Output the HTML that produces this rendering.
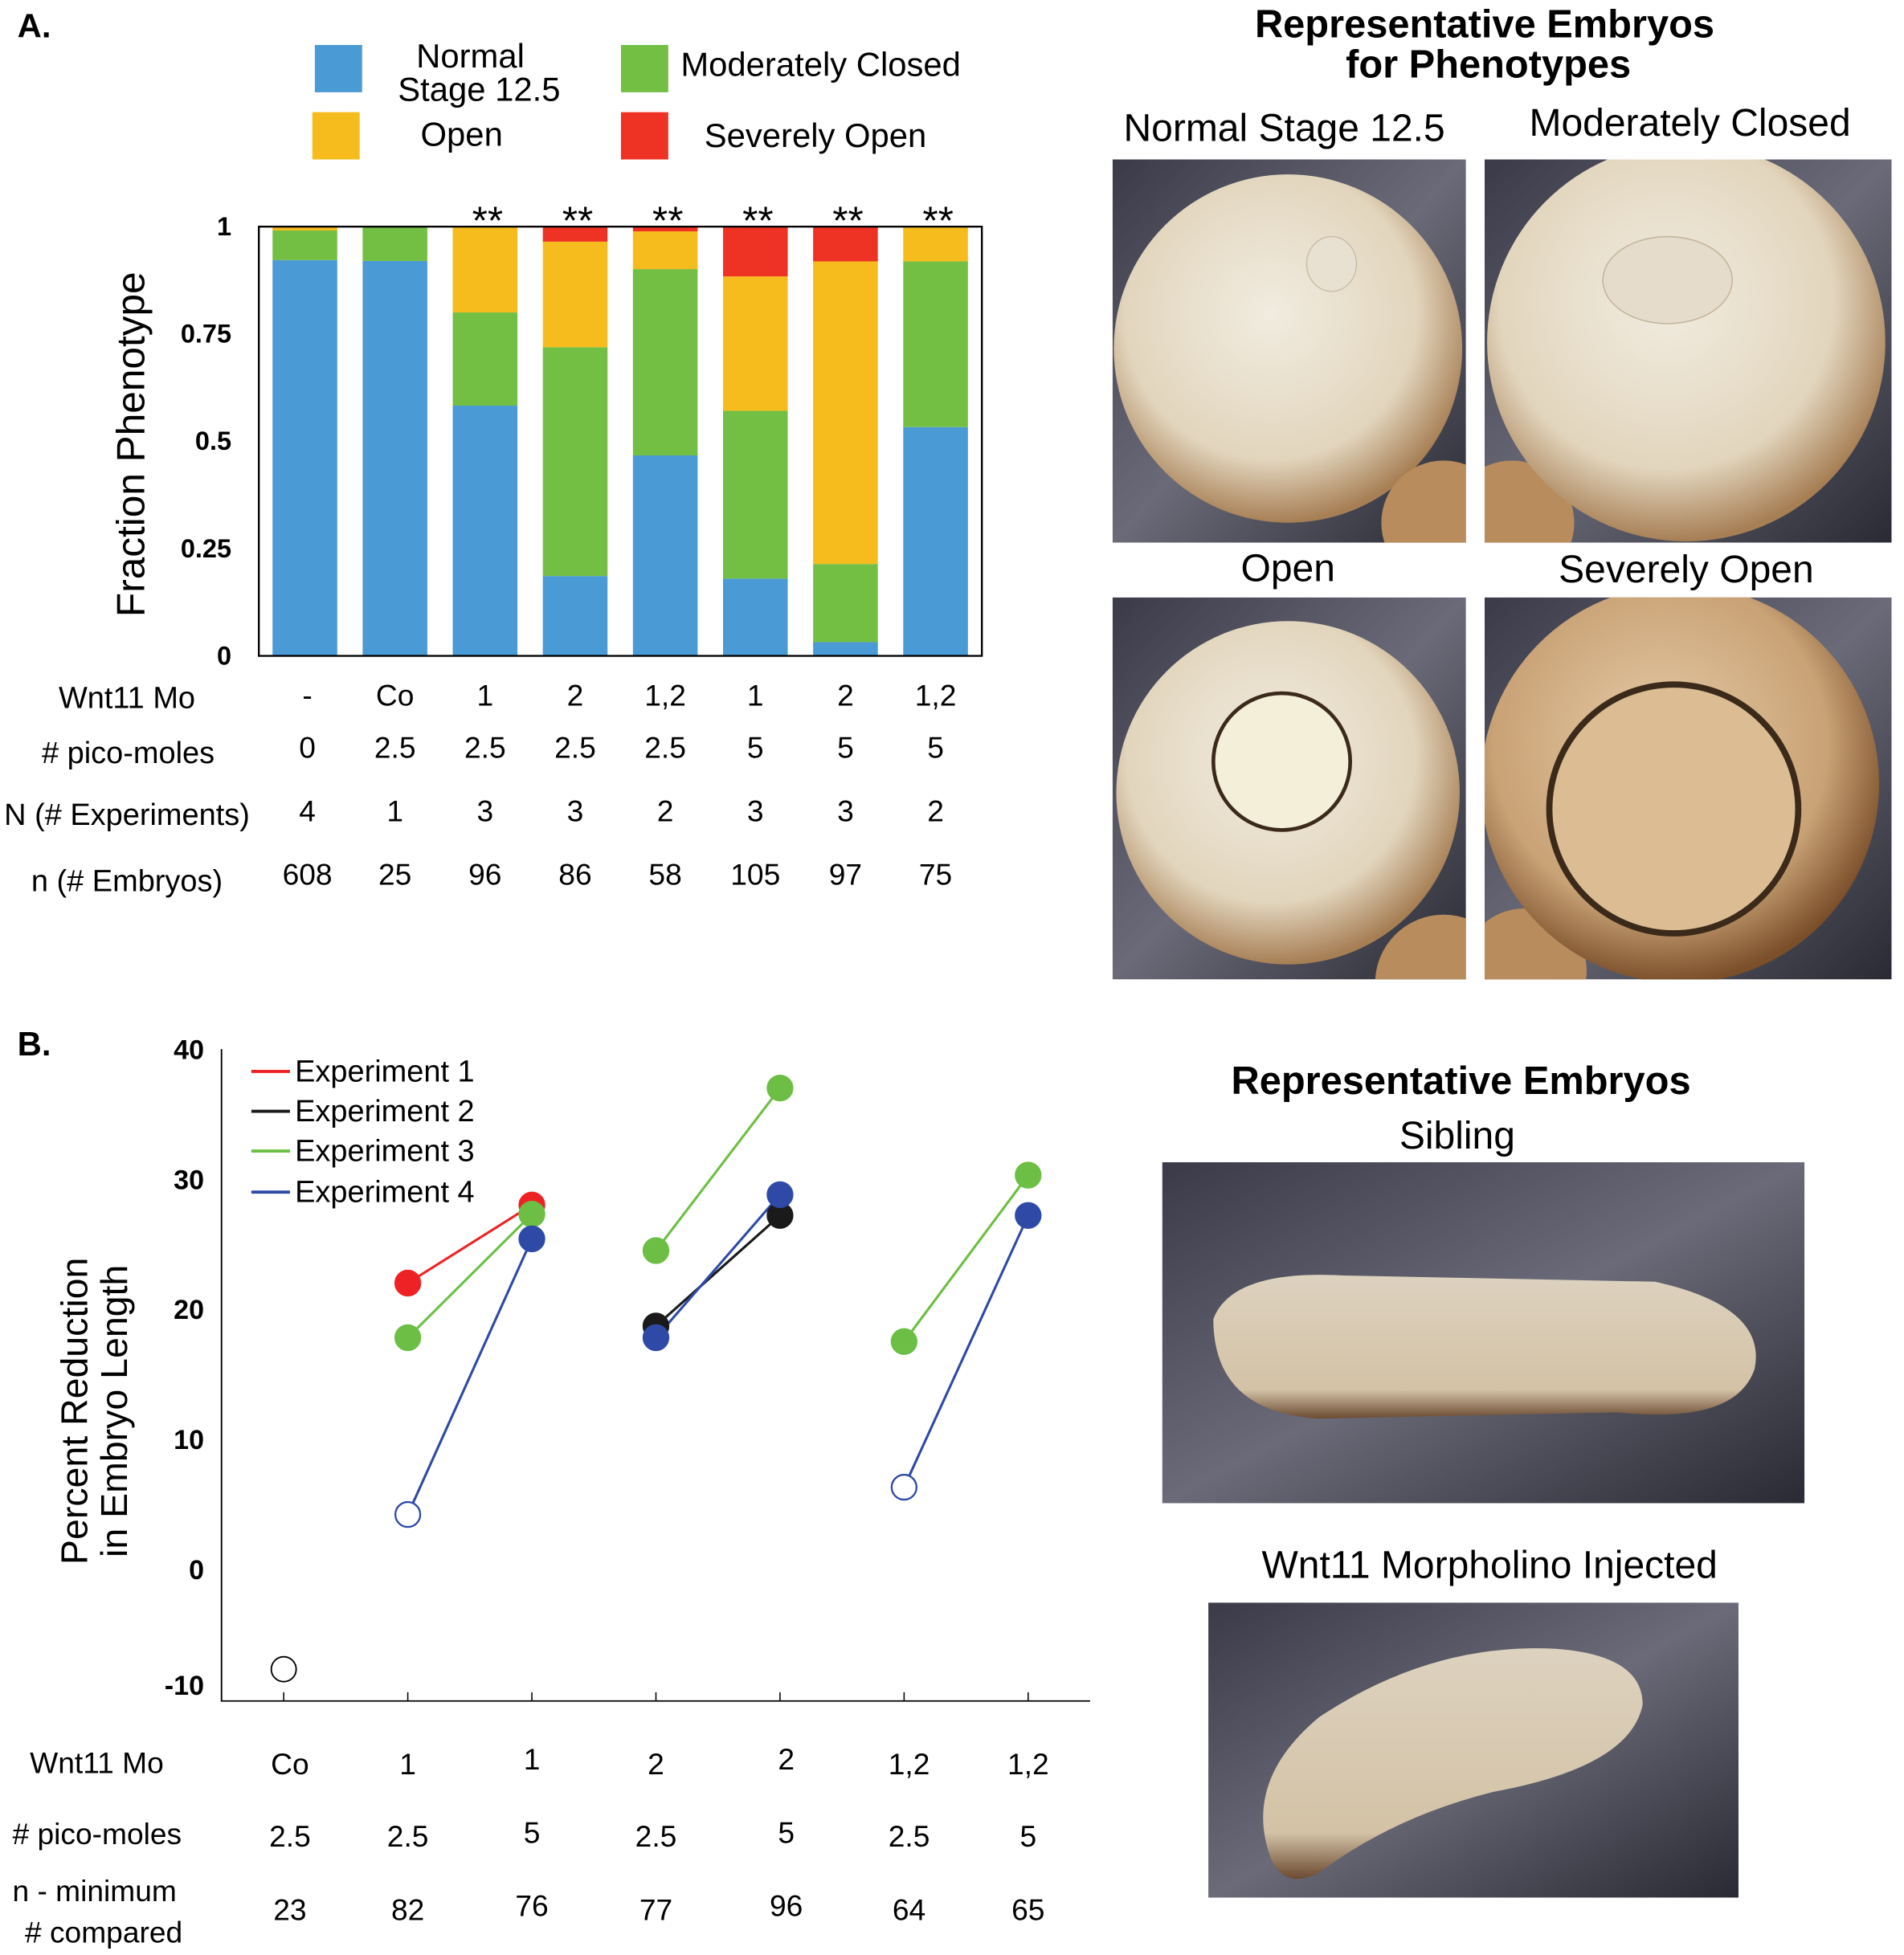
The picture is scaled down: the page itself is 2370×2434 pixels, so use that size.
<!DOCTYPE html>
<html><head><meta charset="utf-8"><style>
html,body{margin:0;padding:0;background:#fff}
svg{display:block;font-family:"Liberation Sans",Arial,sans-serif}
</style></head><body>
<svg id="fig" width="2370" height="2434" viewBox="0 0 1530 1571" xmlns="http://www.w3.org/2000/svg">
<defs>
<radialGradient id="egg" cx="0.45" cy="0.4" r="0.6"><stop offset="0" stop-color="#f1ece0"/><stop offset="0.7" stop-color="#e2d5bd"/><stop offset="1" stop-color="#a77f55"/></radialGradient>
<radialGradient id="egg2" cx="0.45" cy="0.4" r="0.6"><stop offset="0" stop-color="#e6cba6"/><stop offset="0.7" stop-color="#c9a276"/><stop offset="1" stop-color="#7a4f2a"/></radialGradient>
<linearGradient id="bg" x1="0" y1="0" x2="1" y2="1"><stop offset="0" stop-color="#3a3a48"/><stop offset="0.5" stop-color="#6a6a78"/><stop offset="1" stop-color="#2a2a34"/></linearGradient>
<linearGradient id="tad" x1="0" y1="0" x2="0" y2="1"><stop offset="0" stop-color="#ddd2bf"/><stop offset="0.8" stop-color="#d3c2a6"/><stop offset="1" stop-color="#6b4a30"/></linearGradient>
<clipPath id="c1"><rect x="894" y="128" width="284" height="308"/></clipPath>
<clipPath id="c2"><rect x="1193" y="128" width="327" height="308"/></clipPath>
<clipPath id="c3"><rect x="894" y="480" width="284" height="307"/></clipPath>
<clipPath id="c4"><rect x="1193" y="480" width="327" height="307"/></clipPath>
</defs>
<text x="14" y="30" font-size="27" font-weight="bold">A.</text>
<text x="14" y="848" font-size="27" font-weight="bold">B.</text>

<g font-size="27">
<rect x="253" y="36" width="38" height="38" fill="#4a9ad6"/>
<text x="378" y="54" text-anchor="middle">Normal</text><text x="385" y="81" text-anchor="middle">Stage 12.5</text>
<rect x="251" y="90" width="38" height="38" fill="#f6bb1c"/>
<text x="371" y="117" text-anchor="middle">Open</text>
<rect x="499" y="36" width="38" height="38" fill="#72bf44"/>
<text x="547" y="61">Moderately Closed</text>
<rect x="499" y="90" width="38" height="38" fill="#ee3224"/>
<text x="566" y="118">Severely Open</text>
</g>
<g id="chartA"></g>
<g id="chartB"></g>

<g>
<text x="1193" y="30" font-size="31.5" font-weight="bold" text-anchor="middle">Representative Embryos</text>
<text x="1196" y="62" font-size="31.5" font-weight="bold" text-anchor="middle">for Phenotypes</text>
<text x="1032" y="113" font-size="31" text-anchor="middle">Normal Stage 12.5</text>
<text x="1358" y="109" font-size="31" text-anchor="middle">Moderately Closed</text>
<text x="1035" y="467" font-size="31" text-anchor="middle">Open</text>
<text x="1355" y="468" font-size="31" text-anchor="middle">Severely Open</text>
<g clip-path="url(#c1)"><rect x="894" y="128" width="284" height="308" fill="url(#bg)"/><circle cx="1035" cy="280" r="140" fill="url(#egg)"/><circle cx="1160" cy="420" r="50" fill="#b88c5c"/><ellipse cx="1070" cy="212" rx="20" ry="22" fill="#e8e0d0" stroke="#cbbfa8"/></g>
<g clip-path="url(#c2)"><rect x="1193" y="128" width="327" height="308" fill="url(#bg)"/><circle cx="1215" cy="420" r="50" fill="#b88c5c"/><circle cx="1355" cy="275" r="160" fill="url(#egg)"/><ellipse cx="1340" cy="225" rx="52" ry="35" fill="#e6dccb" stroke="#c4b59c"/></g>
<g clip-path="url(#c3)"><rect x="894" y="480" width="284" height="307" fill="url(#bg)"/><circle cx="1160" cy="790" r="55" fill="#b88c5c"/><circle cx="1035" cy="637" r="138" fill="url(#egg)"/><circle cx="1030" cy="612" r="55" fill="#f3efd9" stroke="#3b2a1a" stroke-width="3"/></g>
<g clip-path="url(#c4)"><rect x="1193" y="480" width="327" height="307" fill="url(#bg)"/><circle cx="1225" cy="780" r="50" fill="#b88c5c"/><circle cx="1350" cy="630" r="160" fill="url(#egg2)"/><ellipse cx="1345" cy="650" rx="100" ry="100" fill="#dcbd93" stroke="#3b2a1a" stroke-width="5"/></g>
</g>
<g>
<text x="1174" y="879" font-size="31.5" font-weight="bold" text-anchor="middle">Representative Embryos</text>
<text x="1171" y="923" font-size="31" text-anchor="middle">Sibling</text>
<text x="1197" y="1268" font-size="31" text-anchor="middle">Wnt11 Morpholino Injected</text>
<rect x="934" y="934" width="516" height="274" fill="url(#bg)"/><path d="M975 1060 Q990 1020 1080 1025 L1330 1030 Q1420 1050 1410 1100 Q1395 1145 1300 1135 L1060 1140 Q975 1135 975 1060Z" fill="url(#tad)"/>
<rect x="971" y="1288" width="426" height="237" fill="url(#bg)"/><path d="M1020 1490 Q1000 1430 1060 1380 Q1150 1320 1250 1325 Q1320 1330 1320 1370 Q1310 1420 1200 1440 Q1120 1460 1060 1505 Q1030 1520 1020 1490Z" fill="url(#tad)"/>
</g>
</svg>
<script>
const NS="http://www.w3.org/2000/svg";
function mk(p,t,a,txt){const e=document.createElementNS(NS,t);for(const k in a)e.setAttribute(k,a[k]);if(txt!==undefined)e.textContent=txt;p.appendChild(e);return e;}
// ---- Chart A data ----
const aCats=["-","Co","1","2","1,2","1","2","1,2"];
const aPmol=["0","2.5","2.5","2.5","2.5","5","5","5"];
const aN=["4","1","3","3","2","3","3","2"];
const aEmb=["608","25","96","86","58","105","97","75"];
const aNormal=[0.922,0.92,0.583,0.186,0.467,0.18,0.032,0.533];
const aModClosed=[0.069,0.08,0.217,0.533,0.434,0.391,0.182,0.386];
const aOpen=[0.009,0,0.2,0.246,0.088,0.313,0.705,0.081];
const aSevere=[0,0,0,0.035,0.011,0.116,0.081,0];
const aSig=["","","**","**","**","**","**","**"];
const aTicks=[0,0.25,0.5,0.75,1];
const A=document.getElementById("chartA");
const ax0=208,ax1=789,ay0=527,ay1=182;
const yA=v=>ay0-(ay0-ay1)*v;
const xA=i=>245+i*72.4;
const series=[[aNormal,"#4a9ad6","normal"],[aModClosed,"#72bf44","moderately-closed"],[aOpen,"#f6bb1c","open"],[aSevere,"#ee3224","severely-open"]];
aCats.forEach((c,i)=>{let acc=0;series.forEach(([arr,col,nm])=>{const v=arr[i];if(v>0){const r=mk(A,"rect",{x:xA(i)-26,y:yA(acc+v),width:52,height:yA(acc)-yA(acc+v),fill:col});

}acc+=v;});
if(aSig[i]){const t=mk(A,"text",{x:xA(i)+2,y:188,"font-size":32,"text-anchor":"middle"},aSig[i]);

}});
const fr=mk(A,"rect",{x:ax0,y:ay1,width:ax1-ax0,height:ay0-ay1,fill:"none",stroke:"#000","stroke-width":1.5});


aTicks.forEach(v=>{const t=mk(A,"text",{x:186,y:yA(v)+7,"font-size":21,"font-weight":"bold","text-anchor":"end"},String(v));

});
const yt=mk(A,"text",{transform:"translate(116,357) rotate(-90)","font-size":32,"text-anchor":"middle"},"Fraction Phenotype");


const rowsA=[["Wnt11 Mo",102,569,aCats,567],["# pico-moles",103,613,aPmol,609],["N (# Experiments)",102,663,aN,660],["n (# Embryos)",102,716,aEmb,711]];
rowsA.forEach(([lab,lx,ly,arr,vy])=>{const t=mk(A,"text",{x:lx,y:ly,"font-size":24.5,"text-anchor":"middle"},lab);


arr.forEach((v,i)=>{const s=mk(A,"text",{x:xA(i)+(i===0?2:0),y:vy,"font-size":24,"text-anchor":"middle"},v);

});});
// ---- Chart B data ----
const bCats=["Co","1","1","2","2","1,2","1,2"];
const bPmol=["2.5","2.5","5","2.5","5","2.5","5"];
const bNmin=["23","82","76","77","96","64","65"];
const bTicks=[40,30,20,10,0,-10];
const exp1=[null,22,28,null,null,null,null];
const exp2=[null,null,null,18.7,27.2,null,null];
const exp3=[null,17.8,27.3,24.5,37,17.5,30.3];
const exp4=[null,4.2,25.4,17.8,28.8,6.3,27.2];
const exp4Open=[false,true,false,false,false,true,false];
const control=[-7.7,null,null,null,null,null,null];
const B=document.getElementById("chartB");
const yB=v=>1261-10.45*v;
const xB=i=>228+i*99.7;
const bl=mk(B,"path",{d:"M178 843 V1367 H876",fill:"none",stroke:"#000","stroke-width":1.2});


bCats.forEach((c,i)=>{const t=mk(B,"line",{x1:xB(i),x2:xB(i),y1:1367,y2:1360,stroke:"#000"});

});
bTicks.forEach(v=>{const t=mk(B,"text",{x:164,y:(v===-10?1354:yB(v))+8,"font-size":22,"font-weight":"bold","text-anchor":"end"},String(v));

});
const by1=mk(B,"text",{transform:"translate(70,1134) rotate(-90)","font-size":30,"text-anchor":"middle"},"Percent Reduction");


const by2=mk(B,"text",{transform:"translate(102,1134) rotate(-90)","font-size":30,"text-anchor":"middle"},"in Embryo Length");


const exps=[[exp1,"#ee2224","experiment-1",null],[exp2,"#1a1a1a","experiment-2",null],[exp3,"#6cbf44","experiment-3",null],[exp4,"#2e4aa6","experiment-4",exp4Open]];
exps.forEach(([arr,col,nm])=>{
for(let i=1;i+1<arr.length;i+=2){if(arr[i]!=null&&arr[i+1]!=null){const l=mk(B,"line",{x1:xB(i),y1:yB(arr[i]),x2:xB(i+1),y2:yB(arr[i+1]),stroke:col,"stroke-width":2});

}}});
exps.forEach(([arr,col,nm,open])=>{arr.forEach((v,i)=>{if(v==null)return;const o=open&&open[i];const c=mk(B,"circle",{cx:xB(i),cy:yB(v),r:10,fill:o?"#fff":col,stroke:col,"stroke-width":1.5});

});});
control.forEach((v,i)=>{if(v==null)return;const c=mk(B,"circle",{cx:xB(i),cy:yB(v),r:10,fill:"#fff",stroke:"#000","stroke-width":1.2});

});
const legB=[["Experiment 1","#ee2224",861],["Experiment 2","#1a1a1a",893],["Experiment 3","#6cbf44",925],["Experiment 4","#2e4aa6",958]];
legB.forEach(([lab,col,y])=>{const l=mk(B,"line",{x1:202,x2:233,y1:y,y2:y,stroke:col,"stroke-width":2.5});


const t=mk(B,"text",{x:237,y:y+8,"font-size":24.5},lab);

});
const rowsB=[["Wnt11 Mo",24,1425,bCats,[1426,1426,1422,1426,1422,1426,1426]],["# pico-moles",10,1482,bPmol,[1484,1484,1481,1484,1481,1484,1484]],["n - minimum",10,1528,bNmin,[1543,1543,1540,1543,1540,1543,1543]]];
rowsB.forEach(([lab,lx,ly,arr,ys])=>{const t=mk(B,"text",{x:lx,y:ly,"font-size":24,"font-family":"Liberation Sans"},lab);


arr.forEach((v,i)=>{const s=mk(B,"text",{x:xB(i)+(i===0?5:i===4?5:i===5?4:0),y:ys[i],"font-size":24,"text-anchor":"middle"},v);

});});
const cmp=mk(B,"text",{x:20,y:1561,"font-size":24},"# compared");


</script>
</body></html>
